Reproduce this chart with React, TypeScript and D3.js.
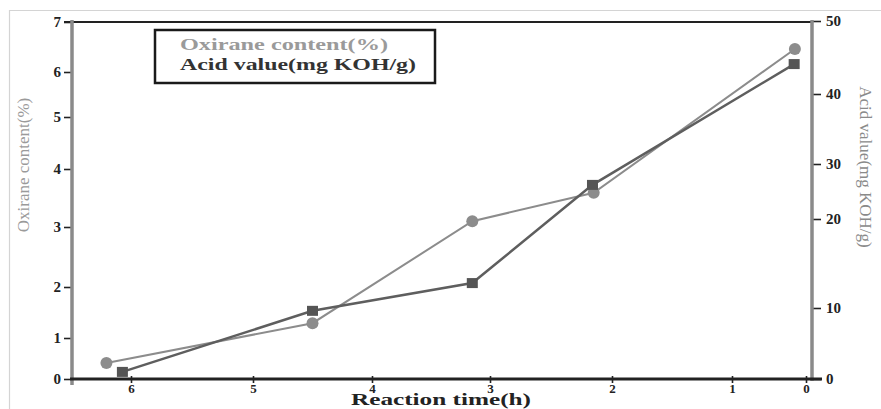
import * as d3 from 'd3';
import React, { useEffect, useRef } from 'react';

// values
const oxiraneTime = [6.2, 4.5, 3.15, 2.15, 0.15];
const oxiraneContent = [0.39, 1.29, 3.1, 3.59, 6.46];
const acidTime = [6.07, 4.5, 3.15, 2.16, 0.16];
const acidValue = [1.0, 9.6, 12.8, 26.2, 44.1];

const timeTicks = [6, 5, 4, 3, 2, 1, 0];
const oxiraneTicks = [0, 1, 2, 3, 4, 5, 6, 7];
const acidTicks = [0, 10, 20, 30, 40, 50];

const legendLabels = ['Oxirane content(%)', 'Acid value(mg KOH/g)'];

export default function App() {
  const ref = useRef<SVGSVGElement>(null);

  useEffect(() => {
    if (!ref.current) return;
    const svg = d3.select(ref.current);
    svg.selectAll('*').remove();

    const W = 881;
    const H = 409;
    const left = 72;
    const right = 812;
    const top = 22;
    const bottom = 379;
    const font = '"Liberation Serif", "Times New Roman", serif';

    // the source figure has uneven tick spacing, so use piecewise scales
    const x = d3
      .scaleLinear()
      .domain([6.48, ...timeTicks, -0.08])
      .range([left, 131, 253, 372, 490, 612, 732, 806, right]);
    const yL = d3
      .scaleLinear()
      .domain(oxiraneTicks)
      .range([bottom, 338, 287, 227, 169, 117, 72, top]);
    const yR = d3
      .scaleLinear()
      .domain(acidTicks)
      .range([bottom, 308, 219, 164, 94, top - 1]);

    svg.attr('width', W).attr('height', H);
    svg.append('rect').attr('width', W).attr('height', H).attr('fill', '#fff');

    // faint image frame
    svg
      .append('path')
      .attr('d', `M9.5,${H} V10.5 H${W}`)
      .attr('fill', 'none')
      .attr('stroke', '#d4d4d4')
      .attr('stroke-width', 1.2);

    // top frame line
    svg
      .append('line')
      .attr('x1', left - 8)
      .attr('x2', right)
      .attr('y1', top)
      .attr('y2', top)
      .attr('stroke', '#222')
      .attr('stroke-width', 2);

    // left axis
    const gl = svg.append('g').attr('transform', `translate(${left},0)`);
    gl.call(
      d3
        .axisLeft(yL)
        .tickValues(oxiraneTicks)
        .tickSize(8)
        .tickPadding(3)
        .tickFormat(d3.format('d'))
    );
    gl.select('.domain').remove();
    gl.append('line')
      .attr('y1', top - 2)
      .attr('y2', bottom + 6)
      .attr('stroke', '#8a8a8a')
      .attr('stroke-width', 3.5);

    // right axis
    const gr = svg.append('g').attr('transform', `translate(${right},0)`);
    gr.call(
      d3
        .axisRight(yR)
        .tickValues(acidTicks)
        .tickSize(9)
        .tickPadding(5)
        .tickFormat(d3.format('d'))
    );
    gr.select('.domain').remove();
    gr.append('line')
      .attr('y1', top - 2)
      .attr('y2', bottom + 2)
      .attr('stroke', '#8a8a8a')
      .attr('stroke-width', 3.5);

    // bottom axis
    const gb = svg.append('g').attr('transform', `translate(0,${bottom})`);
    gb.call(
      d3
        .axisBottom(x)
        .tickValues(timeTicks)
        .tickSizeInner(4)
        .tickSizeOuter(0)
        .tickPadding(1)
        .tickFormat(d3.format('d'))
    );
    gb.select('.domain').remove();
    gb.selectAll('.tick line').attr('y1', -3);
    gb.append('line')
      .attr('x1', left - 2)
      .attr('x2', right + 10)
      .attr('stroke', '#222')
      .attr('stroke-width', 3);

    svg
      .selectAll('.tick text')
      .attr('font-family', font)
      .attr('font-weight', 'bold')
      .attr('font-size', 15)
      .attr('fill', '#222');
    gb.selectAll('.tick text').attr('font-size', 13);
    svg.selectAll('.tick line').attr('stroke', '#222').attr('stroke-width', 1.6);

    // axis titles
    svg
      .append('text')
      .attr('transform', `translate(29,165) rotate(-90)`)
      .attr('text-anchor', 'middle')
      .attr('font-family', font)
      .attr('font-size', 17)
      .attr('fill', '#9a9a9a')
      .text('Oxirane content(%)');
    svg
      .append('text')
      .attr('transform', `translate(860,167) rotate(90)`)
      .attr('text-anchor', 'middle')
      .attr('font-family', font)
      .attr('font-size', 17)
      .attr('fill', '#8a8a8a')
      .text('Acid value(mg KOH/g)');
    svg
      .append('text')
      .attr('x', 441)
      .attr('y', 405)
      .attr('text-anchor', 'middle')
      .attr('font-family', font)
      .attr('font-weight', 'bold')
      .attr('font-size', 16)
      .attr('textLength', 180)
      .attr('lengthAdjust', 'spacingAndGlyphs')
      .attr('fill', '#222')
      .text('Reaction time(h)');

    // series
    const ox = oxiraneTime.map((t, i) => ({ t, v: oxiraneContent[i] }));
    const ac = acidTime.map((t, i) => ({ t, v: acidValue[i] }));

    svg
      .append('path')
      .datum(ox)
      .attr('fill', 'none')
      .attr('stroke', '#8c8c8c')
      .attr('stroke-width', 2)
      .attr(
        'd',
        d3
          .line<{ t: number; v: number }>()
          .x(d => x(d.t))
          .y(d => yL(d.v))
      );
    svg
      .append('path')
      .datum(ac)
      .attr('fill', 'none')
      .attr('stroke', '#5e5e5e')
      .attr('stroke-width', 2.5)
      .attr(
        'd',
        d3
          .line<{ t: number; v: number }>()
          .x(d => x(d.t))
          .y(d => yR(d.v))
      );

    svg
      .selectAll('circle.ox')
      .data(ox)
      .enter()
      .append('circle')
      .attr('class', 'ox')
      .attr('cx', d => x(d.t))
      .attr('cy', d => yL(d.v))
      .attr('r', 6)
      .attr('fill', '#8c8c8c');
    svg
      .selectAll('rect.ac')
      .data(ac)
      .enter()
      .append('rect')
      .attr('class', 'ac')
      .attr('x', d => x(d.t) - 5.5)
      .attr('y', d => yR(d.v) - 5)
      .attr('width', 11)
      .attr('height', 10)
      .attr('fill', '#555');

    // legend box (text only)
    const lg = svg.append('g');
    lg.append('rect')
      .attr('x', 155)
      .attr('y', 30)
      .attr('width', 280)
      .attr('height', 53)
      .attr('fill', '#fff')
      .attr('stroke', '#1a1a1a')
      .attr('stroke-width', 2.5);
    lg.selectAll('text')
      .data(legendLabels)
      .enter()
      .append('text')
      .attr('x', 180)
      .attr('y', (_, i) => 50 + i * 20)
      .attr('font-family', font)
      .attr('font-weight', 'bold')
      .attr('font-size', 16)
      .attr('textLength', (_, i) => (i === 0 ? 208 : 236))
      .attr('lengthAdjust', 'spacingAndGlyphs')
      .attr('fill', (_, i) => (i === 0 ? '#9a9a9a' : '#333'))
      .text(d => d);
  }, []);

  return (
    <svg
      ref={ref}
      style={{ position: 'absolute', left: 0, top: 0, display: 'block' }}
    />
  );
}
